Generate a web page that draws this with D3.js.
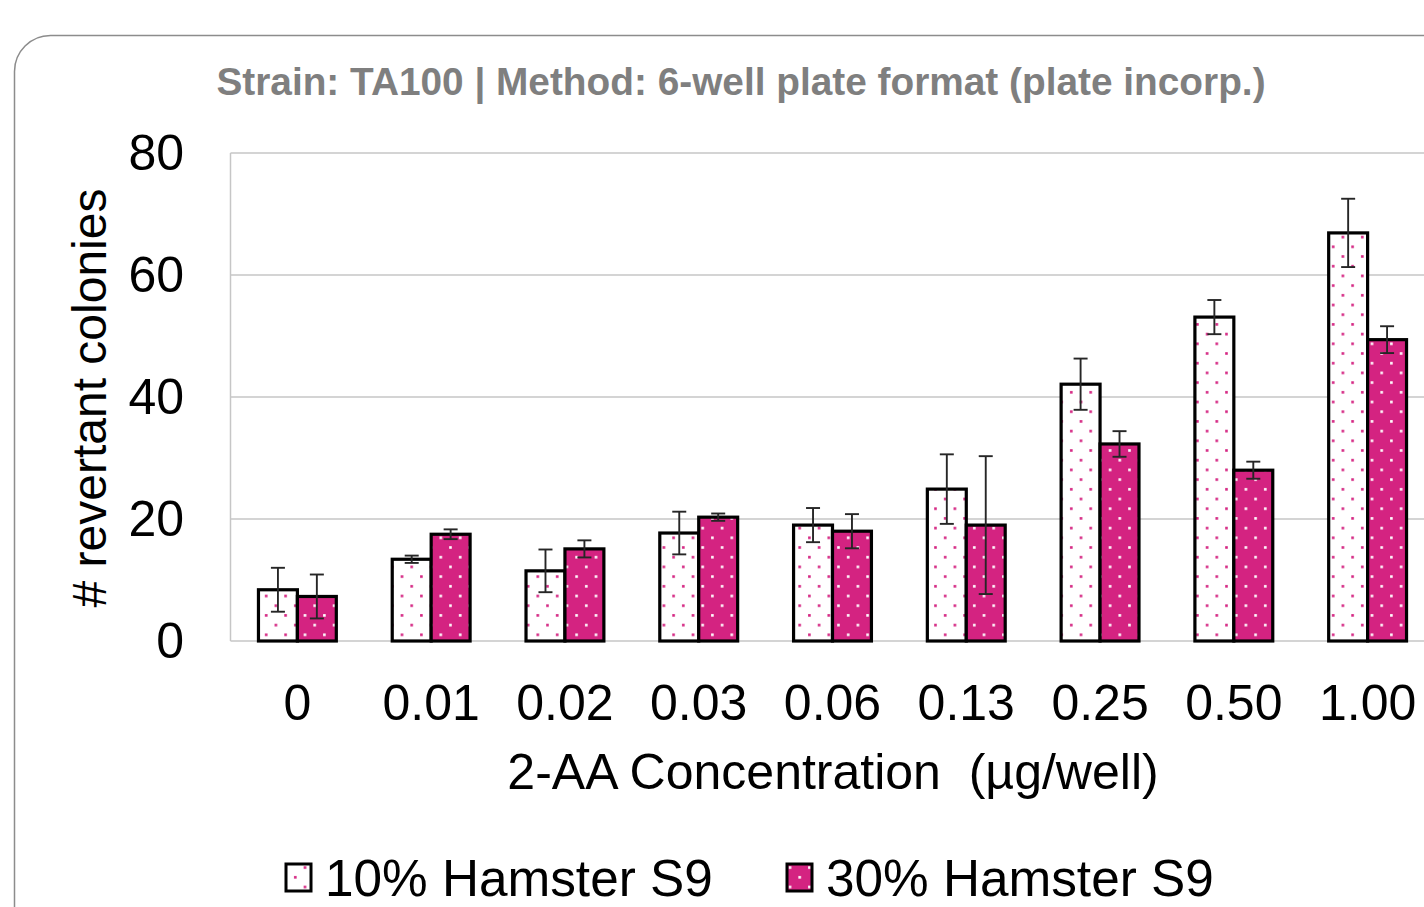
<!DOCTYPE html>
<html lang="en">
<head>
<meta charset="UTF-8">
<title>TA100 revertant colonies</title>
<script src="https://d3js.org/d3.v7.min.js"></script>
<style>
    html, body { margin: 0; padding: 0; background: #fff; overflow: hidden; }
    text { font-family: "Liberation Sans", Arial, sans-serif; }
</style>
</head>
<body>
<svg id="chart" width="1424" height="907"></svg>
<script>
    // data
    const concentrations = ["0", "0.01", "0.02", "0.03", "0.06", "0.13", "0.25", "0.50", "1.00"];
    const hamster10 = [8.4, 13.4, 11.5, 17.7, 19.0, 24.9, 42.1, 53.1, 66.9];
    const hamster10Err = [3.6, 0.6, 3.5, 3.5, 2.8, 5.7, 4.2, 2.8, 5.6];
    const hamster30 = [7.3, 17.5, 15.1, 20.3, 18.0, 19.0, 32.3, 28.0, 49.4];
    const hamster30Err = [3.6, 0.8, 1.4, 0.6, 2.8, 11.3, 2.1, 1.4, 2.2];
    const yTicks = [0, 20, 40, 60, 80];
    const seriesNames = ["10% Hamster S9", "30% Hamster S9"];

    const pink = "#d42381";
    const svg = d3.select("#chart");

    // dotted fills, like the excel pattern fill
    const defs = svg.append("defs");
    function dotPattern(id, bg, dot) {
        const p = defs.append("pattern")
            .attr("id", id)
            .attr("patternUnits", "userSpaceOnUse")
            .attr("width", 19.4).attr("height", 19.4);
        p.append("rect").attr("width", 19.4).attr("height", 19.4).attr("fill", bg);
        p.append("rect").attr("x", 3).attr("y", 3).attr("width", 2.6).attr("height", 2.6).attr("fill", dot);
        p.append("rect").attr("x", 12.7).attr("y", 12.7).attr("width", 2.6).attr("height", 2.6).attr("fill", dot);
    }
    dotPattern("dotsWhite", "#fff", pink);
    dotPattern("dotsPink", pink, "#fff");

    // outer chart frame (runs off the right/bottom of the picture)
    svg.append("rect")
        .attr("x", 14.5).attr("y", 35.5)
        .attr("width", 1500).attr("height", 1000)
        .attr("rx", 36).attr("ry", 36)
        .attr("fill", "none")
        .attr("stroke", "#8c8c8c")
        .attr("stroke-width", 1.5);

    svg.append("text")
        .attr("x", 741).attr("y", 95)
        .attr("text-anchor", "middle")
        .attr("font-size", 38.8)
        .attr("font-weight", "bold")
        .attr("fill", "#7f7f7f")
        .text("Strain: TA100 | Method: 6-well plate format (plate incorp.)");

    const plot = { left: 230.5, top: 153, bottom: 641, right: 1434.5 };

    const x = d3.scaleBand()
        .domain(concentrations)
        .range([plot.left, plot.right])
        .paddingInner(0.418)
        .paddingOuter(0.209);
    const xSub = d3.scaleBand()
        .domain([0, 1])
        .range([0, x.bandwidth()]);
    const y = d3.scaleLinear()
        .domain([0, 80])
        .range([plot.bottom, plot.top]);

    // gridlines
    svg.append("g")
        .selectAll("line")
        .data(yTicks)
        .enter().append("line")
        .attr("x1", plot.left).attr("x2", plot.right)
        .attr("y1", d => y(d)).attr("y2", d => y(d))
        .attr("stroke", "#c6c6c6")
        .attr("stroke-width", 1.5);

    // plot area border, left side
    svg.append("line")
        .attr("x1", plot.left).attr("x2", plot.left)
        .attr("y1", plot.top).attr("y2", plot.bottom)
        .attr("stroke", "#c6c6c6")
        .attr("stroke-width", 1.5);

    // y tick labels
    svg.append("g")
        .selectAll("text")
        .data(yTicks)
        .enter().append("text")
        .attr("x", 184)
        .attr("y", d => y(d) + 17)
        .attr("text-anchor", "end")
        .attr("font-size", 50)
        .attr("fill", "#000")
        .text(d => d);

    // bars
    const series = [
        { values: hamster10, err: hamster10Err, fill: "url(#dotsWhite)" },
        { values: hamster30, err: hamster30Err, fill: "url(#dotsPink)" }
    ];
    series.forEach((s, i) => {
        const g = svg.append("g");
        g.selectAll("rect")
            .data(concentrations)
            .enter().append("rect")
            .attr("x", d => x(d) + xSub(i))
            .attr("width", xSub.bandwidth())
            .attr("y", (d, j) => y(s.values[j]))
            .attr("height", (d, j) => y(0) - y(s.values[j]))
            .attr("fill", s.fill)
            .attr("stroke", "#000")
            .attr("stroke-width", 3.2);
    });

    // error bars drawn on top
    series.forEach((s, i) => {
        const g = svg.append("g").attr("stroke", "#262626").attr("stroke-width", 1.9);
        concentrations.forEach((c, j) => {
            const cx = x(c) + xSub(i) + xSub.bandwidth() / 2;
            const hi = y(s.values[j] + s.err[j]);
            const lo = y(s.values[j] - s.err[j]);
            g.append("line").attr("x1", cx).attr("x2", cx).attr("y1", hi).attr("y2", lo);
            g.append("line").attr("x1", cx - 7).attr("x2", cx + 7).attr("y1", hi).attr("y2", hi);
            g.append("line").attr("x1", cx - 7).attr("x2", cx + 7).attr("y1", lo).attr("y2", lo);
        });
    });

    // x tick labels
    svg.append("g")
        .selectAll("text")
        .data(concentrations)
        .enter().append("text")
        .attr("x", d => x(d) + x.bandwidth() / 2)
        .attr("y", 720)
        .attr("text-anchor", "middle")
        .attr("font-size", 50)
        .attr("fill", "#000")
        .text(d => d);

    // axis titles
    svg.append("text")
        .attr("x", 833).attr("y", 789)
        .attr("text-anchor", "middle")
        .attr("font-size", 50)
        .attr("fill", "#000")
        .attr("xml:space", "preserve")
        .style("white-space", "pre")
        .text("2-AA Concentration  (µg/well)");

    svg.append("text")
        .attr("transform", "translate(106,398) rotate(-90)")
        .attr("text-anchor", "middle")
        .attr("font-size", 48)
        .attr("fill", "#000")
        .text("# revertant colonies");

    // legend
    const legend = svg.append("g");
    const legendX = [286, 787];
    seriesNames.forEach((name, i) => {
        legend.append("rect")
            .attr("x", legendX[i]).attr("y", 864)
            .attr("width", 25).attr("height", 27)
            .attr("fill", series[i].fill)
            .attr("stroke", "#000")
            .attr("stroke-width", 3);
        legend.append("text")
            .attr("x", legendX[i] + 39).attr("y", 896)
            .attr("font-size", 51.3)
            .attr("fill", "#000")
            .text(name);
    });
</script>
</body>
</html>
